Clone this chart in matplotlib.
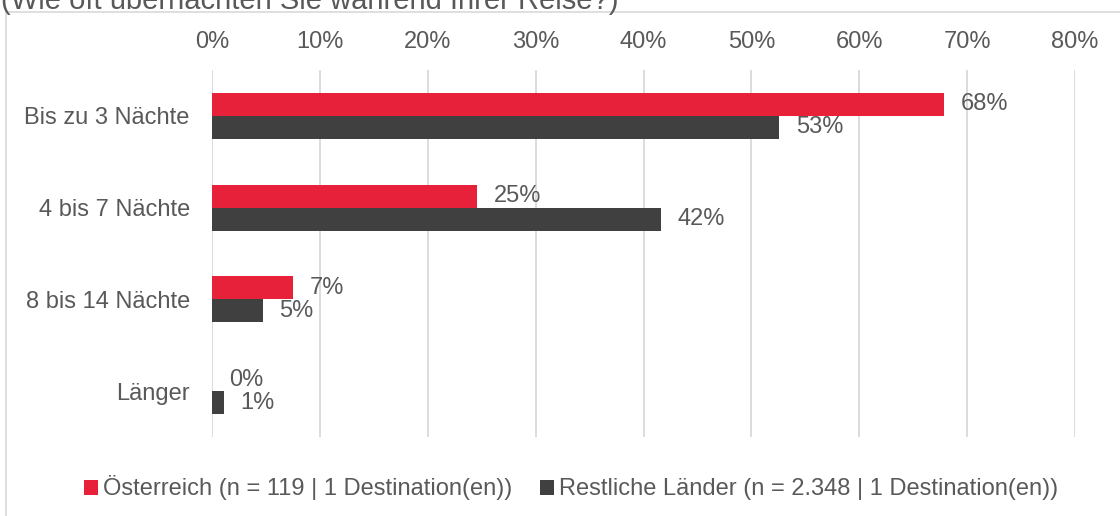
import matplotlib
matplotlib.use("Agg")
import matplotlib.pyplot as plt
from matplotlib.patches import Rectangle, Patch
import numpy as np

categories = ["Bis zu 3 Nächte", "4 bis 7 Nächte", "8 bis 14 Nächte", "Länger"]
oesterreich = [68, 25, 7, 0]
restliche = [53, 42, 5, 1]
oesterreich_bars = [67.9, 24.6, 7.5, 0.0]
restliche_bars = [52.6, 41.6, 4.7, 1.1]
xticks = [0, 10, 20, 30, 40, 50, 60, 70, 80]
series_names = ["Österreich (n = 119 | 1 Destination(en))",
                "Restliche Länder (n = 2.348 | 1 Destination(en))"]
title = "(Wie oft übernachten Sie während Ihrer Reise?)"

RED = "#E8213A"
DARK = "#404040"
TXT = "#595959"
GRID = "#D9D9D9"
FS = 17

plt.rcParams["font.family"] = ["Liberation Sans", "DejaVu Sans"]

fig = plt.figure(figsize=(11.2, 5.16), dpi=100)
W, H = 1120, 516

# outer frame
fig.patches.append(Rectangle((6 / W, -0.1), 1.2, 1 - 12 / H + 0.1, transform=fig.transFigure,
                             fill=False, edgecolor=GRID, linewidth=1.2))
fig.text(1 / W, 1 - 9 / H, title, fontsize=21, color=TXT, va="baseline", ha="left")

ax = fig.add_axes([212 / W, 1 - 437 / H, (1075 - 212) / W, (437 - 70) / H])
y = np.arange(len(categories))
h = 0.25
ax.barh(y - h / 2, oesterreich_bars, height=h, color=RED, zorder=3)
ax.barh(y + h / 2, restliche_bars, height=h, color=DARK, zorder=3)

for yi, v, lab in zip(y, oesterreich_bars, oesterreich):
    ax.annotate(f"{lab}%", (v, yi - h / 2), xytext=(12, 0), textcoords="offset points",
                va="center", ha="left", fontsize=FS, color=TXT)
for yi, v, lab in zip(y, restliche_bars, restliche):
    ax.annotate(f"{lab}%", (v, yi + h / 2), xytext=(12, 0), textcoords="offset points",
                va="center", ha="left", fontsize=FS, color=TXT)

ax.set_xlim(0, 80)
ax.set_ylim(len(categories) - 0.5, -0.5)
ax.set_xticks(xticks)
ax.set_xticklabels([f"{t}%" for t in xticks])
ax.set_yticks(y)
ax.set_yticklabels(categories)
ax.xaxis.tick_top()
ax.tick_params(axis="x", length=0, pad=12, labelsize=FS, labelcolor=TXT)
ax.tick_params(axis="y", length=0, pad=16, labelsize=FS, labelcolor=TXT)
ax.grid(axis="x", color=GRID, linewidth=1.3, zorder=0)
for s in ax.spines.values():
    s.set_visible(False)

handles = [Patch(facecolor=RED, edgecolor="none"), Patch(facecolor=DARK, edgecolor="none")]
fig.legend(handles, series_names, loc="center", bbox_to_anchor=(571 / W, 1 - 488 / H),
           ncol=2, frameon=False, fontsize=FS, labelcolor=TXT,
           handlelength=0.6, handleheight=0.6, handletextpad=0.2, columnspacing=1.2)

fig.savefig("out.png", dpi=100)
